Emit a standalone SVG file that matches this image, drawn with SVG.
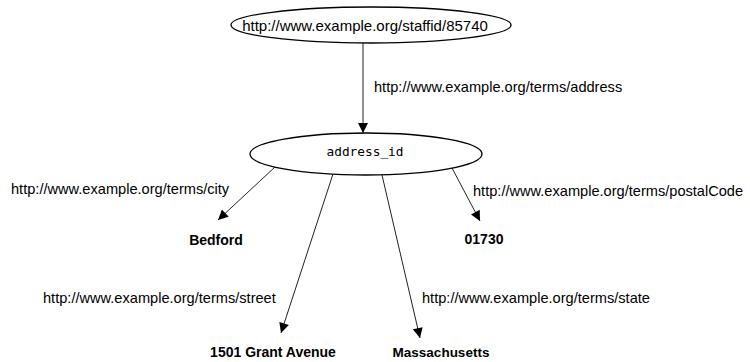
<svg xmlns="http://www.w3.org/2000/svg" width="750" height="362" viewBox="0 0 750 362">
<defs>
<marker id="arr" viewBox="0 0 10 10" refX="10" refY="5" markerWidth="11" markerHeight="10" markerUnits="userSpaceOnUse" orient="auto">
<path d="M0,0 L10,5 L0,10 z" fill="#000"/>
</marker>
<style>
.node{fill:#fff;stroke:#000;stroke-width:1.3}
.edge{stroke:#222;stroke-width:1;fill:none;marker-end:url(#arr)}
.lbl{font-family:"Liberation Sans",Arial,sans-serif;font-size:14.6px;fill:#000}
.lit{font-family:"Liberation Sans",Arial,sans-serif;font-size:14px;font-weight:bold;fill:#000;text-anchor:middle}
.uri{font-family:"Liberation Sans",Arial,sans-serif;font-size:15px;fill:#000;text-anchor:middle}
.bn{font-family:"DejaVu Sans Mono",monospace;font-size:12.8px;fill:#000;text-anchor:middle}
</style>
</defs>
<rect width="750" height="362" fill="#fff"/>
<g id="connectors">
<line class="edge" x1="363" y1="43" x2="363" y2="133"/>
<line class="edge" x1="275" y1="167" x2="218" y2="220"/>
<line class="edge" x1="452" y1="168" x2="480" y2="221"/>
<line class="edge" x1="333" y1="174" x2="281" y2="333"/>
<line class="edge" x1="382" y1="175" x2="420" y2="338"/>
<text class="lbl" x="374" y="92">http://www.example.org/terms/address</text>
<text class="lbl" x="11" y="194">http://www.example.org/terms/city</text>
<text class="lbl" x="473" y="196">http://www.example.org/terms/postalCode</text>
<text class="lbl" x="43" y="303">http://www.example.org/terms/street</text>
<text class="lbl" x="422" y="303">http://www.example.org/terms/state</text>
</g>
<g id="staff">
<ellipse class="node" cx="371" cy="25" rx="140" ry="18"/>
<text class="uri" x="365" y="31">http://www.example.org/staffid/85740</text>
</g>
<g id="address_id">
<ellipse class="node" cx="366" cy="154" rx="116" ry="21"/>
<text class="bn" x="365" y="156">address_id</text>
</g>
<g id="bedford"><text class="lit" x="216" y="245">Bedford</text></g>
<g id="postal"><text class="lit" x="484" y="244">01730</text></g>
<g id="street"><text class="lit" x="273" y="357">1501 Grant Avenue</text></g>
<g id="state"><text class="lit" x="441" y="357" style="font-size:13.5px">Massachusetts</text></g>
</svg>
